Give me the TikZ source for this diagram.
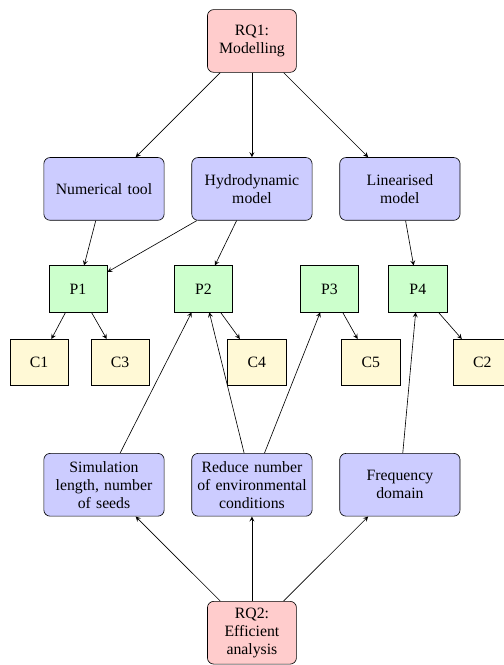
\documentclass[tikz,border=0pt]{standalone}
\usepackage{fontspec}
\setmainfont{Liberation Serif}
\definecolor{cream}{RGB}{255,249,214}
\begin{document}
\begin{tikzpicture}[>=stealth,
      rq/.style={rectangle, rounded corners=4pt, fill=red!20, draw, text width=1.75cm, align=center, minimum height=1.4cm, font=\fontsize{10}{11.5}\selectfont},
      method/.style={rectangle, rounded corners=4pt, fill=blue!20, draw, text width=2.45cm, align=center, minimum height=1.4cm, font=\fontsize{10}{11.5}\selectfont},
      paper/.style={rectangle, fill=green!20, draw, minimum width=1.3cm, minimum height=1.03cm, font=\fontsize{10}{11.5}\selectfont},
      contr/.style={rectangle, fill=cream, draw, minimum width=1.3cm, minimum height=1.03cm, font=\fontsize{10}{11.5}\selectfont}]
%            	\draw (-5.62,-13.92) grid (5.62, 0.91) {};
            \useasboundingbox (-5.62,-13.92) rectangle (5.62,0.914);
            \node[rq] (rq1) at (0, 0) {RQ1:\\Modelling};
            \node[method] (num) at (-3.30, -3.30) {Numerical tool};
            \node[method] (hydro) at (0, -3.30) {Hydrodynamic\\model};
            \node[method] (lin) at (3.30, -3.30) {Linearised\\model};
            \node[paper] (p1) at (-3.88, -5.53) {P1};
            \node[paper] (p2) at (-1.08, -5.53) {P2};
            \node[paper] (p3) at (1.73, -5.53) {P3};
            \node[paper] (p4) at (3.70, -5.53) {P4};
            \node[contr] (c1) at (-4.75, -7.17) {C1};
            \node[contr] (c3) at (-2.94, -7.17) {C3};
            \node[contr] (c4) at (0.11, -7.17) {C4};
            \node[contr] (c5) at (2.65, -7.17) {C5};
            \node[contr] (c2) at (5.14, -7.17) {C2};
            \node[method] (sim) at (-3.30, -9.90) {Simulation\\length, number\\of seeds};
            \node[method] (red) at (0, -9.90) {Reduce number\\of environmental\\conditions};
            \node[method] (freq) at (3.30, -9.90) {Frequency\\domain};
            \node[rq] (rq2) at (0, -13.20) {RQ2:\\Efficient\\analysis};
%           RQ1 branch
            \draw[->] (rq1) -- (num);
            \draw[->] (rq1) -- (hydro);
            \draw[->] (rq1) -- (lin);
            \draw[->] (num) -- (p1);
            \draw[->] (hydro) -- (p1);
            \draw[->] (hydro) -- (p2);
            \draw[->] (lin) -- (p4);
%           contributions
            \draw[->] (p1) -- (c1);
            \draw[->] (p1) -- (c3);
            \draw[->] (p2) -- (c4);
            \draw[->] (p3) -- (c5);
            \draw[->] (p4) -- (c2);
%           RQ2 branch
            \draw[->] (sim) -- (p2);
            \draw[->] (red) -- (p2);
            \draw[->] (red) -- (p3);
            \draw[->] (freq) -- (p4);
            \draw[->] (rq2) -- (sim);
            \draw[->] (rq2) -- (red);
            \draw[->] (rq2) -- (freq);
\end{tikzpicture}
\end{document}
